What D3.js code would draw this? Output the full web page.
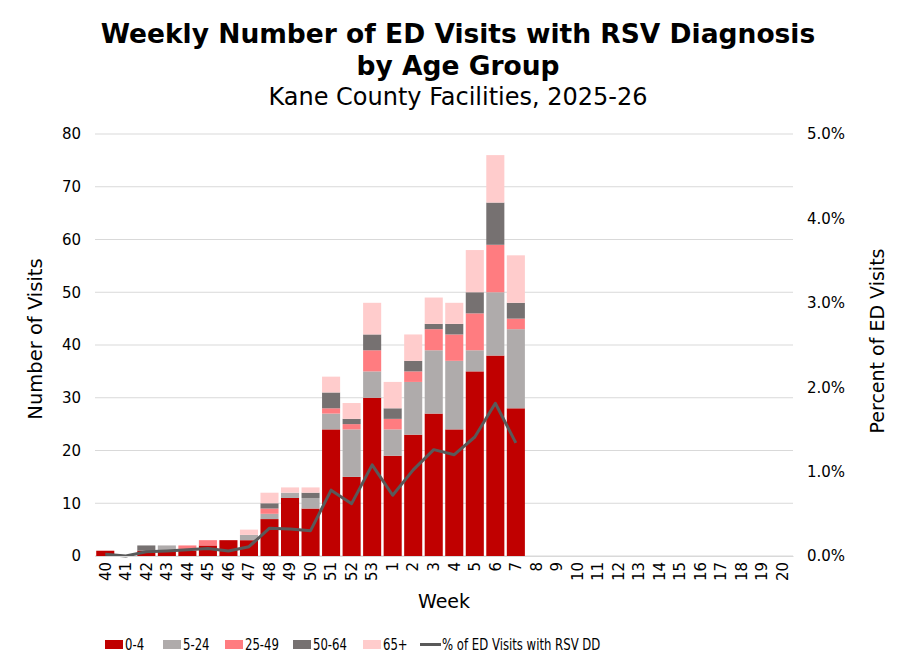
<!DOCTYPE html>
<html><head><meta charset="utf-8">
<script src="https://cdn.jsdelivr.net/npm/d3@7"></script>
<style>body{margin:0;background:#fff;} svg{display:block;font-family:Verdana,"DejaVu Sans",sans-serif;}</style>
</head><body><svg id="c" width="920" height="670"></svg>
<script>
const weeks = ["40","41","42","43","44","45","46","47","48","49","50","51","52","53","1","2","3","4","5","6","7","8","9","10","11","12","13","14","15","16","17","18","19","20"];
const age0_4   = [1,0,1,1,1,2,3,3,7,11,9,24,15,30,19,23,27,24,35,38,28];
const age5_24  = [0,0,0,1,0,0,0,1,1,1,2,3,9,5,5,10,12,13,4,12,15];
const age25_49 = [0,0,0,0,1,1,0,0,1,0,0,1,1,4,2,2,4,5,7,9,2];
const age50_64 = [0,0,1,0,0,0,0,0,1,0,1,3,1,3,2,2,1,2,4,8,3];
const age65p   = [0,0,0,0,0,0,0,1,2,1,1,3,3,6,5,5,5,4,8,9,9];
const pctRSV   = [0.02,0.0,0.05,0.06,0.075,0.09,0.06,0.11,0.33,0.32,0.30,0.78,0.62,1.08,0.72,1.02,1.26,1.20,1.41,1.81,1.34];
const leftTicks = [0,10,20,30,40,50,60,70,80];
const rightTicks = [0,1,2,3,4,5];
const seriesNames = ["0-4","5-24","25-49","50-64","65+"];
const seriesColors = ["#C00000","#AFABAB","#FF7C80","#767171","#FFCCCC"];
const lineName = "% of ED Visits with RSV DD";
const lineColor = "#595959";

const FONT = "Verdana,'DejaVu Sans',sans-serif";
const svg = d3.select("#c");
const L = 95, R = 793, T = 134, B = 556;
const x = d3.scaleBand().domain(weeks).range([L,R]).paddingInner(0.12).paddingOuter(0.06);
const y = d3.scaleLinear().domain([0,80]).range([B,T]);
const y2 = d3.scaleLinear().domain([0,5]).range([B,T]);

// gridlines
svg.append("g").selectAll("line").data(leftTicks).join("line")
  .attr("x1",L).attr("x2",R).attr("y1",d=>y(d)).attr("y2",d=>y(d))
  .attr("stroke","#d9d9d9").attr("stroke-width",1);

// stacked data
const rows = age0_4.map((v,i)=>({week:weeks[i],"0-4":v,"5-24":age5_24[i],"25-49":age25_49[i],"50-64":age50_64[i],"65+":age65p[i]}));
const stack = d3.stack().keys(seriesNames)(rows);
svg.append("g").selectAll("g").data(stack).join("g")
  .attr("fill",(d,i)=>seriesColors[i])
  .selectAll("rect").data(d=>d).join("rect")
  .attr("x",d=>x(d.data.week)).attr("width",x.bandwidth())
  .attr("y",d=>y(d[1])).attr("height",d=>y(d[0])-y(d[1]));

// line
const line = d3.line().x((d,i)=>x(weeks[i])+x.bandwidth()/2).y(d=>y2(d));
svg.append("path").datum(pctRSV).attr("d",line).attr("fill","none")
  .attr("stroke",lineColor).attr("stroke-width",3).attr("stroke-linejoin","round");

// axes
const ax = svg.append("g").attr("transform",`translate(0,${B})`)
  .call(d3.axisBottom(x).tickSize(0).tickPadding(0));
ax.select(".domain").attr("stroke","#d9d9d9");
ax.selectAll("text").attr("transform","rotate(-90)").attr("text-anchor","end")
  .attr("x",-6).attr("y",0).attr("dy","0.35em")
  .style("font-size","15px").style("font-family",FONT).attr("fill","#000");

const ayl = svg.append("g").attr("transform",`translate(${L},0)`)
  .call(d3.axisLeft(y).tickValues(leftTicks).tickSize(0).tickPadding(14));
ayl.select(".domain").remove();
ayl.selectAll("text").style("font-size","15px").style("font-family",FONT).attr("fill","#000");

const ayr = svg.append("g").attr("transform",`translate(${R},0)`)
  .call(d3.axisRight(y2).tickValues(rightTicks).tickSize(0).tickPadding(14).tickFormat(d=>d.toFixed(1)+"%"));
ayr.select(".domain").remove();
ayr.selectAll("text").style("font-size","15px").style("font-family",FONT).attr("fill","#000");

// titles
svg.append("text").attr("x",458).attr("y",43).attr("text-anchor","middle")
  .style("font-size","26.5px").style("font-weight","bold").text("Weekly Number of ED Visits with RSV Diagnosis");
svg.append("text").attr("x",458).attr("y",75).attr("text-anchor","middle")
  .style("font-size","26.5px").style("font-weight","bold").text("by Age Group");
svg.append("text").attr("x",458).attr("y",105).attr("text-anchor","middle")
  .style("font-size","24px").text("Kane County Facilities, 2025-26");
svg.append("text").attr("transform","translate(42,339) rotate(-90)").attr("text-anchor","middle")
  .style("font-size","19.5px").text("Number of Visits");
svg.append("text").attr("transform","translate(884,341) rotate(-90)").attr("text-anchor","middle")
  .style("font-size","19px").text("Percent of ED Visits");
svg.append("text").attr("x",444).attr("y",608).attr("text-anchor","middle")
  .style("font-size","19px").text("Week");

// legend (narrow rendering: horizontally compressed text)
const legX = [105,163,225,293,363];
const SX = 0.78;
const lg = svg.append("g").style("font-family",FONT);
function legText(x0, txt){
  lg.append("text").attr("transform",`translate(${x0},650) scale(${SX},1)`)
    .style("font-size","15px").text(txt);
}
seriesNames.forEach((n,i)=>{
  lg.append("rect").attr("x",legX[i]).attr("y",640).attr("width",18).attr("height",9).attr("fill",seriesColors[i]);
  legText(legX[i]+20, n);
});
lg.append("line").attr("x1",420).attr("x2",441).attr("y1",644.5).attr("y2",644.5).attr("stroke",lineColor).attr("stroke-width",3);
legText(442, lineName);
</script></body></html>
